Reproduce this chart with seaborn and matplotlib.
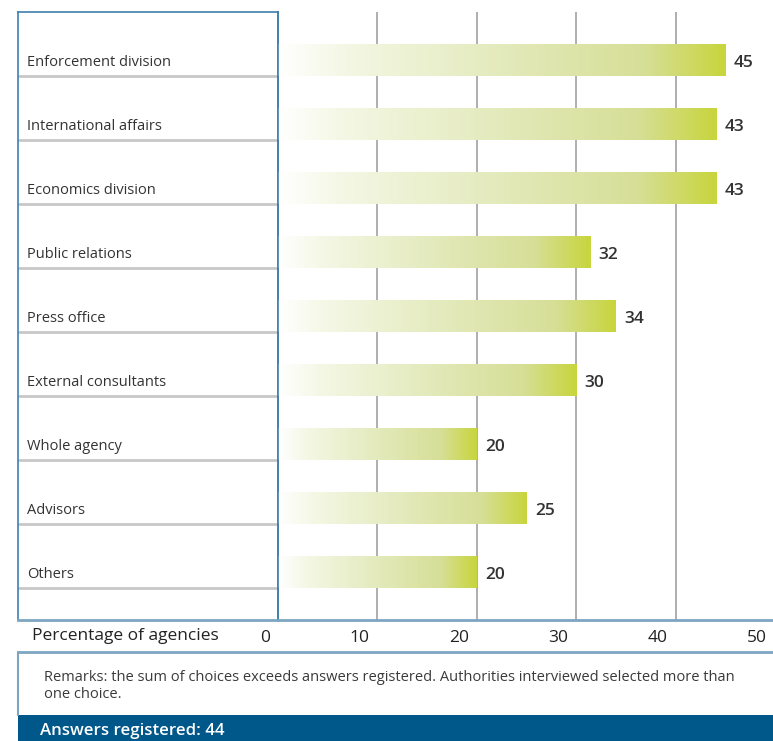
import numpy as np
import pandas as pd
import matplotlib
matplotlib.use("Agg")
import matplotlib.pyplot as plt
import seaborn as sns
from matplotlib.colors import LinearSegmentedColormap
from matplotlib.transforms import ScaledTranslation
from matplotlib.patches import Rectangle
from matplotlib.lines import Line2D

categories = ["Enforcement division", "International affairs", "Economics division",
              "Public relations", "Press office", "External consultants",
              "Whole agency", "Advisors", "Others"]
# bar lengths as drawn in the picture
values = [45, 44.1, 44.1, 31.4, 34, 30, 20, 25, 20]
# value labels as printed in the picture
value_labels = ["45", "43", "43", "32", "34", "30", "20", "25", "20"]
tick_values = [0, 10, 20, 30, 40, 50]
axis_title = "Percentage of agencies"
remark = ("Remarks: the sum of choices exceeds answers registered. Authorities interviewed selected more than\n"
          "one choice.")
footer = "Answers registered: 44"

sns.set_theme(style="white")
plt.rcParams['font.family'] = ['Open Sans', 'DejaVu Sans']

W, H = 773, 741
fig = plt.figure(figsize=(W / 100, H / 100), dpi=100)

def fx(px):
    return px / W

def fy(py):
    return 1 - py / H

top_px, bot_px = 12, 620
blue_line = "#7ea6c2"
panel_blue = "#3f7fae"
text_col = "#333333"

axl = fig.add_axes([fx(18), fy(bot_px), fx(278 - 18), (bot_px - top_px) / H])
axb = fig.add_axes([fx(278), fy(bot_px), fx(775 - 278), (bot_px - top_px) / H])

df = pd.DataFrame({"category": categories, "value": values})
sns.barplot(data=df, x="value", y="category", orient="h", ax=axb, width=0.5,
            color="#c8d53c", edgecolor="none", linewidth=0)

cmap = LinearSegmentedColormap.from_list(
    "grad", [(0.0, "#ffffff"), (0.15, "#f4f7e4"), (0.55, "#e1e8b6"),
             (0.82, "#d6df97"), (1.0, "#c8d53c")])
grad = np.linspace(0, 1, 256).reshape(1, -1)
for p in axb.patches:
    x0, y0 = p.get_x(), p.get_y()
    w, h = p.get_width(), p.get_height()
    p.set_facecolor("none")
    im = axb.imshow(grad, cmap=cmap, aspect="auto", extent=[x0, x0 + w, y0 + h, y0],
                    zorder=2, interpolation="bilinear")
    im.set_clip_path(p)

axb.set_xlim(0, 50)
axb.set_ylim(len(categories) - 0.25, -0.75)
axb.set_ylabel("")
axb.set_xlabel("")
axb.set_yticks([])
for gx in tick_values[1:-1]:
    axb.axvline(gx, color="#a8a8a8", lw=1.3, zorder=1)
for s in ["top", "right"]:
    axb.spines[s].set_visible(False)
axb.spines["left"].set_color(panel_blue)
axb.spines["left"].set_linewidth(1.2)
axb.spines["bottom"].set_color(blue_line)
axb.spines["bottom"].set_linewidth(2)

axb.set_xticks(tick_values)
axb.set_xticklabels([str(t) for t in tick_values], fontsize=12.5, color="#222222")
axb.tick_params(axis="x", length=0, pad=7)
off = ScaledTranslation(-8 / 100, 0, fig.dpi_scale_trans)
for lab in axb.get_xticklabels():
    lab.set_horizontalalignment("right")
    lab.set_transform(lab.get_transform() + off)

for i, (v, lab) in enumerate(zip(values, value_labels)):
    axb.annotate(lab, (v, i + 0.04), xytext=(6, 0), textcoords="offset points",
                 va="center", ha="left", fontsize=12.5, fontweight="semibold",
                 color=text_col, annotation_clip=False)
axb.patch.set_alpha(0)

axl.set_ylim(len(categories) - 0.25, -0.75)
axl.set_xlim(0, 1)
axl.set_xticks([])
axl.set_yticks([])
for s in axl.spines.values():
    s.set_color(panel_blue)
    s.set_linewidth(1.2)
axl.spines["bottom"].set_color(blue_line)
axl.spines["bottom"].set_linewidth(2)
for i, c in enumerate(categories):
    axl.text(9 / 260, i + 0.04, c, va="center", ha="left", fontsize=10.5, color=text_col)
    axl.axhline(i + 0.25, color="#c8c8c8", lw=2)

fig.text(fx(32), fy(636), axis_title, fontsize=12.5, color="#222222", va="center", ha="left")

fig.add_artist(Line2D([fx(18), fx(773)], [fy(652), fy(652)], color=blue_line, lw=2))
fig.add_artist(Line2D([fx(18), fx(18)], [fy(652), fy(715)], color=blue_line, lw=1.5))
fig.text(fx(44), fy(686), remark, fontsize=10.5, color="#3a3a3a", va="center", ha="left",
         linespacing=1.15)

fig.add_artist(Rectangle((fx(18), 0), fx(773 - 18), fy(715), transform=fig.transFigure,
                         facecolor="#00578a", edgecolor="none"))
fig.text(fx(40), fy(731), footer, fontsize=12.2, color="white", va="center", ha="left",
         fontweight="semibold")

fig.savefig("out.png", dpi=100)
